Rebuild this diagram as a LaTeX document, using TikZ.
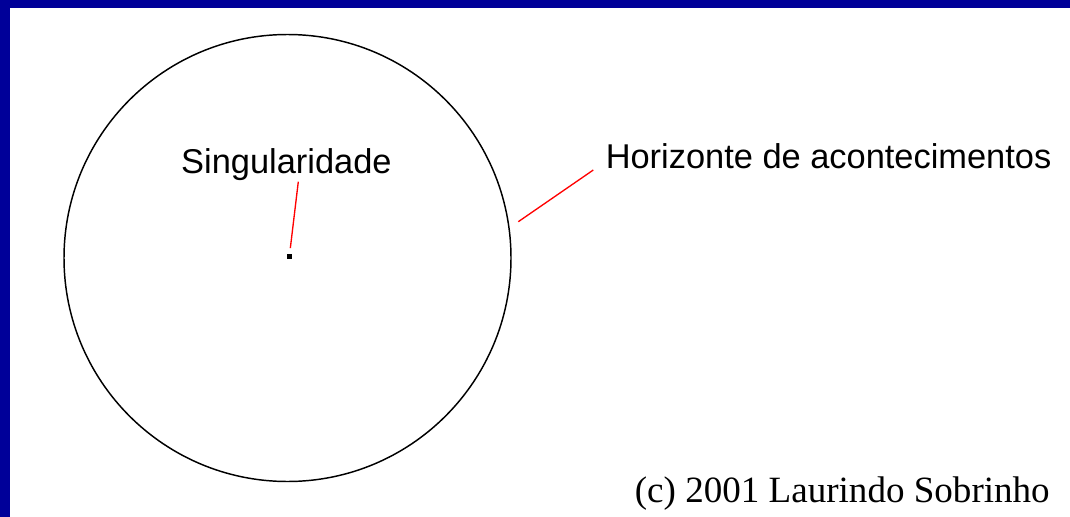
\documentclass[tikz,border=0pt]{standalone}
\usepackage{fontspec}
\setmainfont{Liberation Serif}
\setsansfont{Liberation Sans}
\usepackage{tikz}
\definecolor{moldura}{RGB}{0,0,153}
\definecolor{traco}{RGB}{255,0,0}

\begin{document}
\begin{tikzpicture}[x=0.75pt,y=-0.75pt,
		rotulo/.style={font=\sffamily\fontsize{25.8}{30}\selectfont,inner sep=0pt},
		ligacao/.style={draw=traco,line width=1pt}]
		  \useasboundingbox (0,0) rectangle (1070,517);
		  \fill[white] (0,0) rectangle (1070,517);
		  \fill[moldura] (0,0) rectangle (1070,8);
		  \fill[moldura] (0,0) rectangle (10,517);
		  \draw[line width=1.1pt] (287.5,258) circle[radius=223.5];
		  \node[fill=black,minimum size=3.5pt,inner sep=0pt] (ponto) at (289.3,256.7) {};
		  \node[rotulo,anchor=base] (sing) at (286.4,173.5) {Singularidade};
		  \node[rotulo,anchor=base west] (horiz) at (605.5,168.3) {Horizonte de acontecimentos};
		  \node[inner sep=0pt,anchor=base east,font=\fontsize{27.8}{32}\selectfont] (autor) at (1050,502.5) {(c) 2001 Laurindo Sobrinho};
		  \coordinate (s1) at (298.3,181.7);
		  \coordinate (h1) at (518.3,221.7);
		  \coordinate (h2) at (593.3,170);
		  \draw[ligacao,shorten >=4.5pt] (s1) -- (ponto);
		  \draw[ligacao] (h1) -- (h2);
		\end{tikzpicture}
\end{document}
